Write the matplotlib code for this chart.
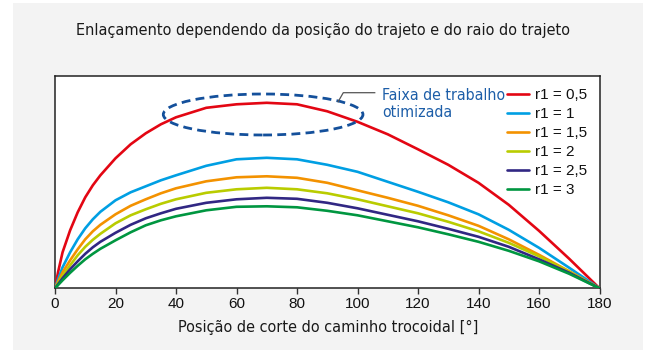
import matplotlib
matplotlib.use("Agg")
import matplotlib.pyplot as plt
from matplotlib.patches import Rectangle, Ellipse

# Cutting position along the trochoidal path [deg]
position = [0, 1, 2.5, 5, 7.5, 10, 12.5, 15, 20, 25, 30, 35, 40, 50, 60, 70,
            80, 90, 100, 110, 120, 130, 140, 150, 160, 170, 180]

# Engagement (relative units) for each path radius r1
eng_r05 = [0, 16, 36, 58, 76, 91, 103, 113, 130, 144, 155, 164, 171,
           180.5, 184, 185.5, 184, 177, 166.5, 154, 139, 123.5, 105.5, 83.5,
           57.5, 29.5, 0]
eng_r10 = [0, 9, 21, 36, 49, 60, 69, 76.5, 88, 96, 102, 108, 113,
           122.5, 129, 130.5, 129, 123.5, 116.5, 106.5, 96.5, 86, 74, 58.5,
           40.5, 20.5, 0]
eng_r15 = [0, 6.5, 16, 28, 39, 49, 57, 63.5, 74, 82.5, 89, 95, 100,
           107, 111, 112, 110.5, 105.5, 98, 90.5, 82.5, 73, 62.5, 49,
           33.5, 17, 0]
eng_r20 = [0, 5, 12.5, 23, 33, 41.5, 48.5, 54.5, 65, 73, 79, 84.5, 89,
           95.5, 99, 100.5, 99, 95, 89, 82, 75, 66.5, 57, 45.5,
           32, 16.5, 0]
eng_r25 = [0, 4, 10, 19, 27, 34.5, 41, 46.5, 55.5, 63.5, 70, 75, 79.5,
           85.5, 89, 90.5, 89.5, 85.5, 80, 73.5, 67, 59.5, 51.5, 41.5,
           29, 15.5, 0]
eng_r30 = [0, 3.2, 8, 15.5, 22.5, 29, 34.5, 39.5, 48, 56, 63, 68, 72,
           78, 81.5, 82, 81, 77.5, 73, 67, 61, 54, 46.5, 37.5,
           27, 14.5, 0]

series = [eng_r05, eng_r10, eng_r15, eng_r20, eng_r25, eng_r30]
labels = ["r1 = 0,5", "r1 = 1", "r1 = 1,5", "r1 = 2", "r1 = 2,5", "r1 = 3"]
colors = ["#e30613", "#009fe3", "#f39200", "#b9cc00", "#312783", "#009640"]

x_ticks = [0, 20, 40, 60, 80, 100, 120, 140, 160, 180]

title = "Enlaçamento dependendo da posição do trajeto e do raio do trajeto"
xlabel = "Posição de corte do caminho trocoidal [°]"
band_text = "Faixa de trabalho\notimizada"

cond = dict(fontfamily="DejaVu Sans", fontstretch="condensed")
sans = ["Liberation Sans", "DejaVu Sans"]

fig = plt.figure(figsize=(6.45, 3.52), dpi=100)
fig.patch.set_facecolor("white")
fig.patches.append(Rectangle((13 / 645, 2 / 352), 630 / 645, 347 / 352,
                             transform=fig.transFigure, facecolor="#f3f3f3",
                             edgecolor="none", zorder=-5))

ax = fig.add_axes([55 / 645, (352 - 288.3) / 352, 544.5 / 645, 212.8 / 352])
ax.set_zorder(2)
ax.set_facecolor("white")

for vals, lab, col in zip(series, labels, colors):
    ax.plot(position, vals, color=col, lw=1.9, label=lab,
            solid_capstyle="round", solid_joinstyle="round", zorder=3)

ax.set_xlim(0, 180)
ax.set_ylim(0, 212.8)
ax.set_xticks(x_ticks)
ax.set_xticklabels([str(t) for t in x_ticks], fontfamily=sans, fontsize=11)
ax.set_yticks([])
ax.tick_params(axis="x", direction="out", length=4, width=1.0,
               color="#333333", pad=2, labelcolor="#111111")
for sp in ax.spines.values():
    sp.set_linewidth(1.1)
    sp.set_color("#222222")

# optimal working band
ax.add_patch(Ellipse((68.8, 173.8), 66, 41, fill=False, edgecolor="#14509b",
                     lw=2.0, linestyle=(0, (3.2, 1.9)), zorder=4))
ax.plot([93.6, 95.3, 105.7], [186.6, 195.6, 195.6], color="#555555",
        lw=0.9, zorder=4)
ax.text(108.1, 184.3, band_text, color="#1d5ea8", fontsize=11.4,
        ha="left", va="center", linespacing=1.1, zorder=5, **cond)

leg = ax.legend(loc="upper left", bbox_to_anchor=(0.830, 0.941),
                frameon=False, borderpad=0, borderaxespad=0,
                handlelength=1.45, handletextpad=0.4, labelspacing=0.33,
                prop={"family": sans, "size": 11})
for t in leg.get_texts():
    t.set_color("#111111")

fig.text(0.5 * (77 + 568) / 645, 1 - 30 / 352, title, ha="center",
         va="center", fontsize=11.6, color="#1a1a1a", **cond)
fig.text(0.5 * (178 + 479) / 645, 1 - 327 / 352, xlabel, ha="center",
         va="center", fontsize=11.6, color="#1a1a1a", **cond)

fig.savefig("out.png", dpi=100, facecolor="white")
